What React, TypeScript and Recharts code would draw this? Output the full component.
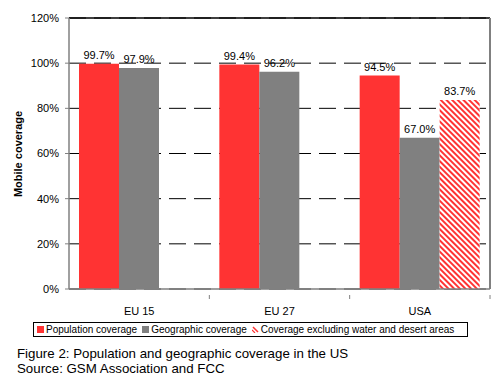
import * as React from 'react';
import {
  BarChart,
  Bar,
  XAxis,
  YAxis,
  CartesianGrid,
  LabelList,
  ReferenceLine,
  Label,
} from 'recharts';

const regions = ['EU 15', 'EU 27', 'USA'];
const population = [99.7, 99.4, 94.5];
const geographic = [97.9, 96.2, 67.0];
const excluding = [null, null, 83.7];
const yTicks = [0, 20, 40, 60, 80, 100, 120];

const RED = '#FF3333';
const GRAY = '#808080';
const FONT = '"Liberation Sans", Arial, sans-serif';
const BAND = 421 / 3;

const chartData = regions.map((region, i) => ({
  region,
  population: population[i],
  geographic: geographic[i],
  excluding: excluding[i],
}));

const pct = (v: any) => (v == null ? '' : `${Number(v).toFixed(1)}%`);

function RegionTick(props: any) {
  const { x, y, payload } = props;
  return (
    <g>
      <line x1={x + BAND / 2} y1={y - 12} x2={x + BAND / 2} y2={y - 8} stroke={GRAY} />
      <text x={x} y={y} dy="0.71em" textAnchor="middle" fontSize={11} fontFamily={FONT} fill="#000">
        {payload.value}
      </text>
    </g>
  );
}

function HatchIcon() {
  return (
    <svg width={7} height={7} style={{ marginRight: 2 }}>
      <line x1={1} y1={1} x2={6} y2={6} stroke={RED} strokeWidth={1.5} />
      <line x1={0} y1={4} x2={3} y2={7} stroke={RED} strokeWidth={1.2} />
    </svg>
  );
}

function Square({ color }: { color: string }) {
  return (
    <span
      style={{ display: 'inline-block', width: 7, height: 7, background: color, marginRight: 2 }}
    />
  );
}

export default function App() {
  return (
    <div
      style={{
        position: 'absolute',
        left: 0,
        top: 0,
        width: 500,
        height: 381,
        background: '#fff',
        fontFamily: FONT,
      }}
    >
      <BarChart
        width={500}
        height={320}
        data={chartData}
        margin={{ top: 18, right: 0, bottom: 0, left: 0 }}
        barCategoryGap={10}
        barGap={0}
      >
        <defs>
          <pattern
            id="hatch"
            patternUnits="userSpaceOnUse"
            width={4}
            height={4}
            patternTransform="rotate(-45)"
          >
            <rect width={4} height={4} fill="#fff" />
            <rect width={2} height={4} fill={RED} />
          </pattern>
        </defs>
        <CartesianGrid vertical={false} stroke="#000" strokeDasharray="17 8" />
        <XAxis
          dataKey="region"
          height={31}
          axisLine={{ stroke: GRAY, strokeWidth: 1.5 }}
          tickLine={false}
          tickMargin={12}
          tick={<RegionTick />}
        />
        <YAxis
          width={69}
          domain={[0, 120]}
          ticks={yTicks}
          tickFormatter={(v) => `${v}%`}
          axisLine={{ stroke: GRAY, strokeWidth: 1.5 }}
          tickLine={{ stroke: GRAY }}
          tickSize={4}
          tickMargin={6}
          tick={{ fill: '#000', fontSize: 11, fontFamily: FONT }}
        >
          <Label
            content={() => (
              <text
                x={18}
                y={154}
                transform="rotate(-90 18 154)"
                textAnchor="middle"
                dominantBaseline="central"
                fontSize={11}
                fontWeight="bold"
                fontFamily={FONT}
                fill="#000"
              >
                Mobile coverage
              </text>
            )}
          />
        </YAxis>
        <YAxis
          yAxisId="right"
          orientation="right"
          width={10}
          domain={[0, 120]}
          ticks={yTicks}
          tick={false}
          tickLine={false}
          axisLine={{ stroke: GRAY, strokeWidth: 2 }}
        />
        <ReferenceLine y={120} stroke="#000" strokeWidth={1.5} />
        <Bar dataKey="population" fill={RED} isAnimationActive={false}>
          <LabelList dataKey="population" position="top" formatter={pct} fill="#000" fontSize={11} fontFamily={FONT} />
        </Bar>
        <Bar dataKey="geographic" fill={GRAY} isAnimationActive={false}>
          <LabelList dataKey="geographic" position="top" formatter={pct} fill="#000" fontSize={11} fontFamily={FONT} />
        </Bar>
        <Bar dataKey="excluding" fill="url(#hatch)" isAnimationActive={false}>
          <LabelList dataKey="excluding" position="top" formatter={pct} fill="#000" fontSize={11} fontFamily={FONT} />
        </Bar>
      </BarChart>
      <div
        style={{
          position: 'absolute',
          left: 33,
          top: 322,
          width: 430,
          height: 13,
          border: '1px solid #000',
          fontSize: 10,
          lineHeight: '13px',
          display: 'flex',
          alignItems: 'center',
          paddingLeft: 3,
          whiteSpace: 'nowrap',
          background: '#fff',
        }}
      >
        <Square color={RED} />
        <span style={{ marginRight: 5 }}>Population coverage</span>
        <Square color={GRAY} />
        <span style={{ marginRight: 5 }}>Geographic coverage</span>
        <HatchIcon />
        <span>Coverage excluding water and desert areas</span>
      </div>
      <div
        style={{
          position: 'absolute',
          left: 17,
          top: 346,
          fontSize: 13.3,
          lineHeight: '15px',
          color: '#000',
        }}
      >
        <div>Figure 2: Population and geographic coverage in the US</div>
        <div>Source: GSM Association and FCC</div>
      </div>
    </div>
  );
}
